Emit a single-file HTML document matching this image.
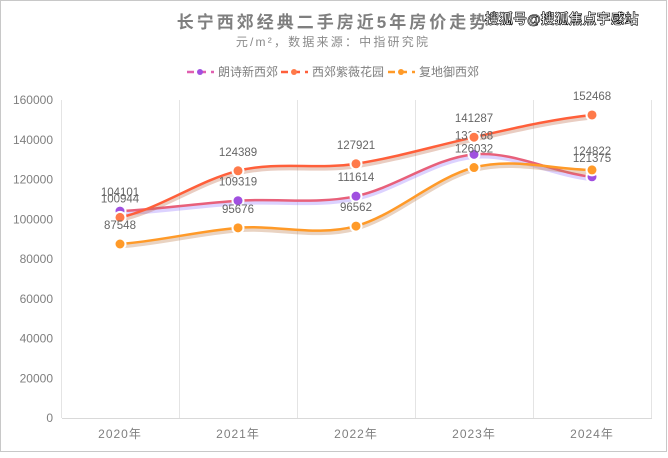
<!DOCTYPE html>
<html><head><meta charset="utf-8"><style>
body{margin:0;background:#fff;}
svg text{font-family:"Liberation Sans","Noto Sans CJK SC",sans-serif;}
</style></head><body>
<svg id="s" width="668" height="453" xmlns="http://www.w3.org/2000/svg">
<rect x="0.5" y="0.5" width="666" height="451" fill="#fff" stroke="#c8c8c8"/>
<text x="333" y="28" font-size="17" font-weight="bold" fill="#7f7f7f" text-anchor="middle" letter-spacing="3">长宁西郊经典二手房近5年房价走势</text>
<text x="485" y="24" font-size="14" font-weight="bold" fill="#fff" stroke="#000" stroke-width="0.6">搜狐号@搜狐焦点宇感站</text>
<text x="333" y="46" font-size="12" fill="#8a8a8a" text-anchor="middle" letter-spacing="2.2">元/m²，数据来源：中指研究院</text>
<g font-size="12" fill="#7f7f7f">
<line x1="187" y1="72" x2="214" y2="72" stroke="#e05fb0" stroke-width="2.5" stroke-dasharray="7,5"/><circle cx="200" cy="72" r="3" fill="#a050e0"/>
<text x="218" y="76">朗诗新西郊</text>
<line x1="281" y1="72" x2="308" y2="72" stroke="#ff5f3a" stroke-width="2.5" stroke-dasharray="7,5"/><circle cx="294" cy="72" r="3" fill="#ff7a4a"/>
<text x="312" y="76">西郊紫薇花园</text>
<line x1="388" y1="72" x2="415" y2="72" stroke="#ff9a28" stroke-width="2.5" stroke-dasharray="7,5"/><circle cx="401" cy="72" r="3" fill="#ff9a28"/>
<text x="419" y="76">复地御西郊</text>
</g>
<g id="grid"></g>
<g id="lines"></g>
</svg>
<script>
var s=document.getElementById('s'),ns='http://www.w3.org/2000/svg';
function el(t,a,txt,p){var e=document.createElementNS(ns,t);for(var k in a)e.setAttribute(k,a[k]);if(txt!=null)e.textContent=txt;(p||s).appendChild(e);return e;}
var g=document.getElementById('grid'),L=document.getElementById('lines');
function Y(v){return 418-v*0.0019875;}
var xs=[120,238,356,474,592];
for(var i=0;i<=8;i++){var v=i*20000;
 el('text',{x:53,y:Y(v)+4,'font-size':12,fill:'#7f7f7f','text-anchor':'end'},String(v),g);}
el('line',{x1:62,y1:418.5,x2:652,y2:418.5,stroke:'#d9d9d9'},null,g);
[61,179,297,415,533,651].forEach(function(x){el('line',{x1:x+.5,y1:100,x2:x+.5,y2:418,stroke:'#e4e4e4'},null,g);});
['2020年','2021年','2022年','2023年','2024年'].forEach(function(t,i){el('text',{x:xs[i],y:438,'font-size':12,fill:'#7f7f7f','text-anchor':'middle','letter-spacing':1},t,g);});
var series=[
 {d:[104101,109319,111614,132668,121375],c:'#e8607a',glow:'#9a7dff',dot:'#a050e0'},
 {d:[100944,124389,127921,141287,152468],c:'#ff5f3a',glow:'#c07050',dot:'#ff7a4a'},
 {d:[87548,95676,96562,126032,124822],c:'#ff9a28',glow:'#c08050',dot:'#ff9a28'}];
function path(ys){var p='M'+xs[0]+','+ys[0];
 for(var i=0;i<4;i++){var y0=ys[Math.max(i-1,0)],y1=ys[i],y2=ys[i+1],y3=ys[Math.min(i+2,4)];
  var t=0.18;var c1=y1+(y2-y0)*t,c2=y2-(y3-y1)*t;var dx=(xs[i+1]-xs[i])/3;
  p+=' C'+(xs[i]+dx)+','+c1+' '+(xs[i+1]-dx)+','+c2+' '+xs[i+1]+','+y2;}
 return p;}
series.forEach(function(se){var ys=se.d.map(Y);var p=path(ys);
 el('path',{d:p,fill:'none',stroke:se.glow,'stroke-width':5,opacity:.35,transform:'translate(0,2)'},null,L);
 el('path',{d:p,fill:'none',stroke:se.c,'stroke-width':2.5},null,L);});
series.forEach(function(se){se.d.forEach(function(v,i){var y=Y(v);
 el('circle',{cx:xs[i],cy:y,r:6.5,fill:'#fff'},null,L);
 el('circle',{cx:xs[i],cy:y,r:4.5,fill:se.dot},null,L);
 el('text',{x:xs[i],y:y-15,'font-size':11.5,fill:'#666','text-anchor':'middle'},String(v),L);});});
</script>
</body></html>
